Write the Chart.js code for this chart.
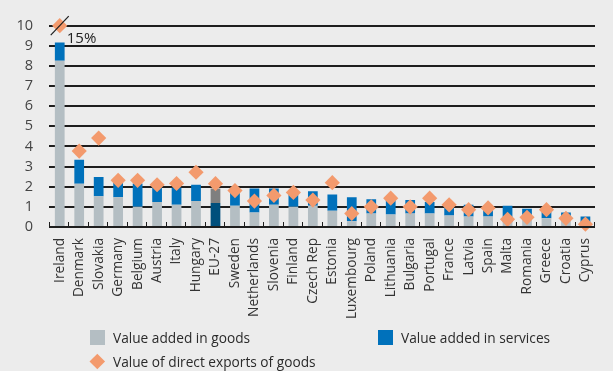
<!DOCTYPE html>
<html>
<head>
<meta charset="utf-8">
<script src="https://cdn.jsdelivr.net/npm/chart.js@4/dist/chart.umd.min.js"></script>
<style>
    html, body { margin: 0; padding: 0; background: #ececec; }
    #wrap { position: relative; width: 613px; height: 371px; background: #ececec; font-family: 'Open Sans', sans-serif; color: #2a2a2a; }
    #chart { position: absolute; left: 0; top: 0; }
    #back, #front { position: absolute; left: 0; top: 0; width: 613px; height: 371px; pointer-events: none; }
    .rule { position: absolute; background: #1e1e1e; }
    .key { position: absolute; font-size: 13.7px; line-height: 16px; white-space: nowrap; }
    .sw { position: absolute; width: 15px; height: 15px; }
    .dia { position: absolute; width: 10.6px; height: 10.6px; background: #f39a6d; transform: rotate(45deg); }
</style>
</head>
<body>
<div id="wrap">
    <div id="back"></div>
    <canvas id="chart" width="613" height="371"></canvas>
    <div id="front"></div>
    <div class="sw" style="left:90px;top:330px;background:#b4bec3"></div>
    <div class="key" style="left:113px;top:330px">Value added in goods</div>
    <div class="sw" style="left:378px;top:330px;background:#0071bb"></div>
    <div class="key" style="left:401px;top:330px">Value added in services</div>
    <div class="dia" style="left:92.2px;top:355.7px"></div>
    <div class="key" style="left:113px;top:354px">Value of direct exports of goods</div>
</div>
<script>
'use strict';

const countries = ['Ireland', 'Denmark', 'Slovakia', 'Germany', 'Belgium', 'Austria', 'Italy', 'Hungary',
    'EU-27', 'Sweden', 'Netherlands', 'Slovenia', 'Finland', 'Czech Rep', 'Estonia', 'Luxembourg',
    'Poland', 'Lithuania', 'Bulgaria', 'Portugal', 'France', 'Latvia', 'Spain', 'Malta', 'Romania',
    'Greece', 'Croatia', 'Cyprus'];

const goods = [8.26, 2.15, 1.53, 1.48, 1.0, 1.24, 1.1, 1.29,
    1.19, 1.05, 0.72, 1.1, 1.0, 1.05, 0.81, 0.29,
    0.67, 0.62, 0.67, 0.67, 0.57, 0.52, 0.52, 0.24, 0.33,
    0.43, 0.38, 0.24];

const services = [0.9, 1.19, 0.95, 0.74, 1.16, 0.76, 0.86, 0.81,
    0.72, 0.72, 1.19, 0.81, 0.81, 0.72, 0.81, 1.19,
    0.71, 0.72, 0.67, 0.57, 0.57, 0.58, 0.53, 0.81, 0.58,
    0.43, 0.34, 0.28];

const directExports = [15, 3.77, 4.42, 2.32, 2.32, 2.1, 2.16, 2.72,
    2.15, 1.81, 1.29, 1.57, 1.72, 1.34, 2.2, 0.67,
    1.0, 1.43, 1.0, 1.43, 1.1, 0.86, 0.95, 0.38, 0.48,
    0.86, 0.43, 0.14];

const yTicks = [0, 1, 2, 3, 4, 5, 6, 7, 8, 9, 10];
const yMax = 10;

const goodsColour = '#b4bec3';
const servicesColour = '#0071bb';
const euIndex = countries.indexOf('EU-27');

// values above the axis top sit on the top line, with a break mark
const shownExports = directExports.map(v => Math.min(v, yMax));

function addRule(layer, left, top, width, height) {
    const el = document.createElement('div');
    el.className = 'rule';
    el.style.left = left + 'px';
    el.style.top = top + 'px';
    el.style.width = width + 'px';
    el.style.height = height + 'px';
    layer.appendChild(el);
}

// grid rules sit behind the canvas, the axis and its ticks in front
const axisRules = {
    id: 'axisRules',
    afterRender(chart) {
        const back = document.getElementById('back');
        const front = document.getElementById('front');
        back.innerHTML = '';
        front.innerHTML = '';
        const area = chart.chartArea;
        const x = chart.scales.x;
        const y = chart.scales.y;
        const width = area.right - area.left + 1;
        for (const v of yTicks) {
            const py = Math.round(y.getPixelForValue(v));
            addRule(v === 0 ? front : back, area.left - 1, py - 1, width, v === 0 ? 2 : 1.5);
        }
        const base = Math.round(y.getPixelForValue(0));
        for (let i = 0; i <= countries.length; i++) {
            const px = Math.round(x.getPixelForValue(i - 0.5));
            addRule(front, px - 1, base - 5, 1.4, 5);
        }
    },
};

const axisBreak = {
    id: 'axisBreak',
    afterDatasetsDraw(chart) {
        const ctx = chart.ctx;
        const x = chart.scales.x;
        const y = chart.scales.y;
        ctx.save();
        ctx.strokeStyle = '#1e1e1e';
        directExports.forEach((v, i) => {
            if (v <= yMax) return;
            const px = x.getPixelForValue(i);
            const py = y.getPixelForValue(yMax);
            ctx.lineWidth = 1.2;
            ctx.beginPath();
            ctx.moveTo(px - 9, py + 9.5);
            ctx.lineTo(px + 9, py - 9.5);
            ctx.stroke();
            ctx.fillStyle = '#222';
            ctx.font = '15px "Open Sans"';
            ctx.textAlign = 'left';
            ctx.textBaseline = 'alphabetic';
            ctx.fillText(v + '%', px + 7, py + 17);
        });
        ctx.restore();
    },
};

const chartElement = document.getElementById('chart');
const chart = new Chart(chartElement, {
    data: {
        labels: countries,
        datasets: [
            {
                type: 'line',
                label: 'Value of direct exports of goods',
                data: shownExports,
                showLine: false,
                pointStyle: 'rectRot',
                pointRadius: 7.6,
                pointBackgroundColor: '#f39a6d',
                pointBorderWidth: 0,
                stack: 'exports',
                clip: false,
                order: 0,
            },
            {
                type: 'bar',
                label: 'Value added in goods',
                data: goods,
                backgroundColor: countries.map((c, i) => i === euIndex ? '#004f7c' : goodsColour),
                stack: 'va',
                order: 1,
            },
            {
                type: 'bar',
                label: 'Value added in services',
                data: services,
                backgroundColor: countries.map((c, i) => i === euIndex ? '#7f7f7f' : servicesColour),
                stack: 'va',
                order: 1,
            },
        ],
    },
    options: {
        responsive: false,
        animation: false,
        layout: {
            padding: { top: 10.5, right: 0, bottom: 0, left: 0 },
        },
        datasets: {
            bar: {
                categoryPercentage: 1,
                barPercentage: 0.5,
            },
        },
        scales: {
            x: {
                stacked: true,
                offset: true,
                grid: {
                    display: false,
                    drawTicks: false,
                },
                border: {
                    display: false,
                },
                ticks: {
                    autoSkip: false,
                    minRotation: 90,
                    maxRotation: 90,
                    padding: 11,
                    color: '#333',
                    font: { family: 'Open Sans', size: 13.7 },
                },
                afterFit(scale) {
                    scale.height = 144;
                },
            },
            y: {
                stacked: true,
                min: 0,
                max: yMax,
                afterBuildTicks(scale) {
                    scale.ticks = yTicks.map(v => ({ value: v }));
                },
                grid: {
                    display: false,
                    drawTicks: false,
                },
                border: {
                    display: false,
                },
                ticks: {
                    autoSkip: false,
                    padding: 17,
                    color: '#444',
                    font: { family: 'Open Sans', size: 14.5 },
                },
                afterFit(scale) {
                    scale.width = 50;
                },
            },
        },
        plugins: {
            legend: {
                display: false,
            },
            tooltip: {
                enabled: false,
            },
        },
    },
    plugins: [axisBreak, axisRules],
});
</script>
</body>
</html>
